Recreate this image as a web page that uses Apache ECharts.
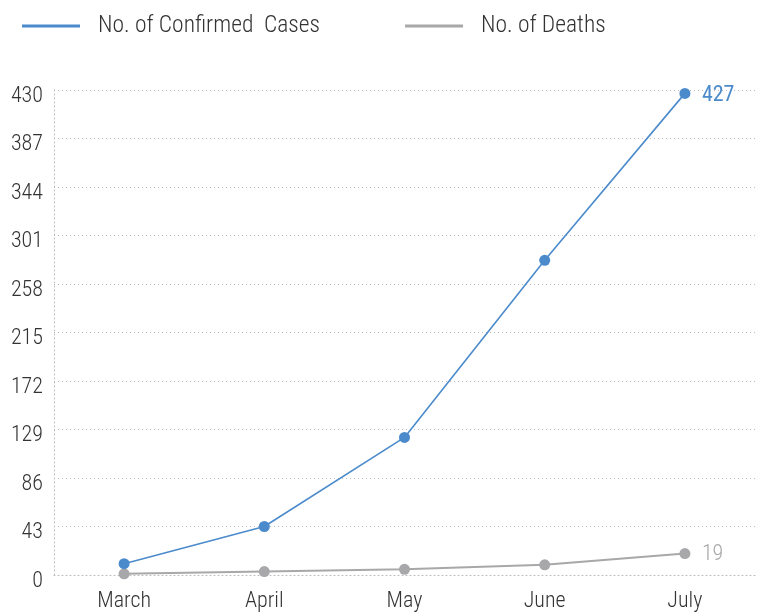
<!DOCTYPE html>
<html>
<head>
<meta charset="utf-8">
<script src="https://cdn.jsdelivr.net/npm/echarts@6/dist/echarts.min.js"></script>
<style>
html,body{margin:0;padding:0;background:#fff;}
#chart{width:758px;height:612px;}
</style>
</head>
<body>
<div id="chart"></div>
<script>
const months = ['March', 'April', 'May', 'June', 'July'];
const confirmedCases = [10, 43, 122, 279, 427];
const deaths = [1, 3, 5, 9, 19];
const seriesNames = ['No. of Confirmed  Cases', 'No. of Deaths'];
const yTicks = { min: 0, max: 430, interval: 43 };

const FONT = '"Roboto Condensed", "Liberation Sans Narrow", "DejaVu Sans Condensed", Roboto, sans-serif';
const BLUE = '#4B8BCB';
const GRAY = '#A8A8AA';
const TEXT = '#333333';

const chart = echarts.init(document.getElementById('chart'), null, { renderer: 'canvas' });
chart.setOption({
  animation: false,
  textStyle: { fontFamily: FONT, fontWeight: 300 },
  legend: {
    left: 17,
    top: 9,
    itemWidth: 58,
    itemHeight: 3,
    itemGap: 85,
    icon: 'rect',
    textStyle: { fontFamily: FONT, fontSize: 23.5, fontWeight: 300, color: TEXT, padding: [0, 0, 0, 13] },
    data: [
      { name: seriesNames[0], itemStyle: { color: BLUE } },
      { name: seriesNames[1], itemStyle: { color: GRAY } }
    ]
  },
  grid: { left: 54, right: 3, top: 90, bottom: 37, containLabel: false },
  xAxis: {
    type: 'category',
    data: months,
    boundaryGap: true,
    axisLine: { show: true, lineStyle: { color: '#bbbbbb', type: [1, 3], width: 1 } },
    axisTick: { show: false },
    axisLabel: { fontFamily: FONT, fontSize: 22, fontWeight: 300, color: TEXT, margin: 15 }
  },
  yAxis: {
    type: 'value',
    min: yTicks.min,
    max: yTicks.max,
    interval: yTicks.interval,
    axisLine: { show: true, lineStyle: { color: '#bbbbbb', type: [1, 3], width: 1 } },
    axisTick: { show: false },
    axisLabel: {
      formatter: '{v|{value}}',
      margin: 11,
      rich: { v: { fontFamily: FONT, fontSize: 22, fontWeight: 300, color: TEXT, padding: [12, 0, 0, 0] } }
    },
    splitLine: { show: true, lineStyle: { color: '#bbbbbb', type: [1, 3], width: 1 } }
  },
  series: [
    {
      name: seriesNames[0],
      type: 'line',
      data: confirmedCases,
      color: BLUE,
      symbol: 'circle',
      symbolSize: 11,
      lineStyle: { width: 1.6, color: BLUE },
      itemStyle: { color: BLUE },
      endLabel: {
        show: true, distance: 17, formatter: '{v|{c}}',
        rich: { v: { fontFamily: FONT, fontSize: 22, color: BLUE, fontWeight: 400, padding: [5, 0, 0, 0] } }
      },
      z: 3
    },
    {
      name: seriesNames[1],
      type: 'line',
      data: deaths,
      color: GRAY,
      symbol: 'circle',
      symbolSize: 11,
      lineStyle: { width: 2, color: GRAY },
      itemStyle: { color: GRAY },
      endLabel: {
        show: true, distance: 17, formatter: '{v|{c}}',
        rich: { v: { fontFamily: FONT, fontSize: 22, color: GRAY, fontWeight: 300, padding: [2, 0, 0, 0] } }
      },
      z: 2
    }
  ]
});
</script>
</body>
</html>
